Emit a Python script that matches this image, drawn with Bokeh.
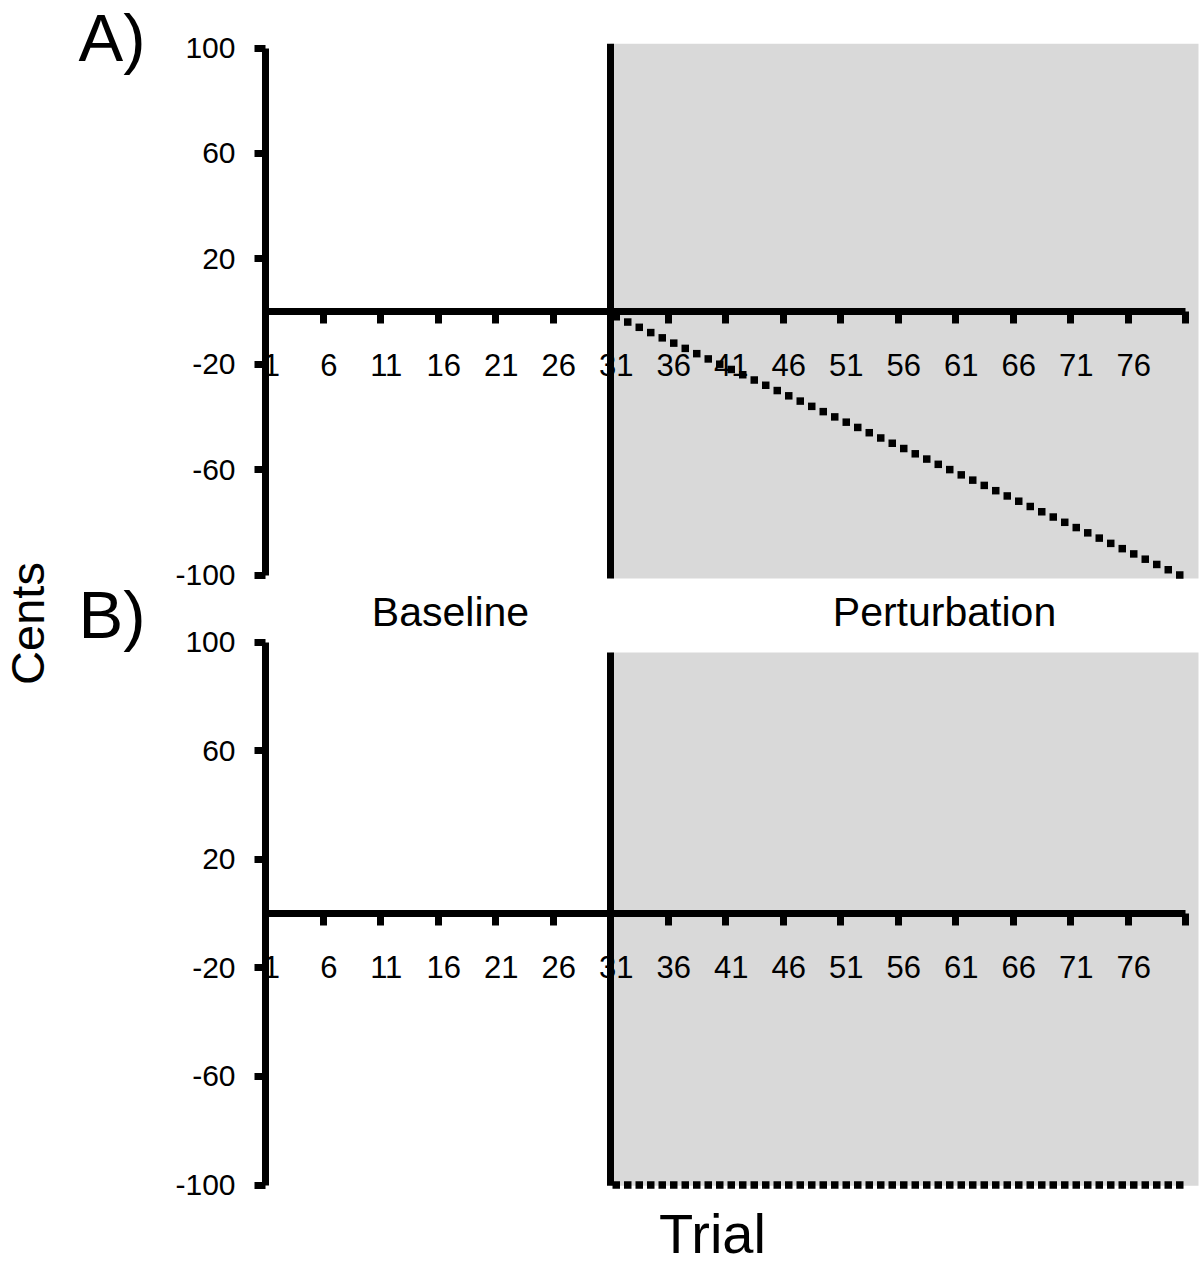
from bokeh.plotting import figure
from bokeh.models import Range1d, LinearAxis, FixedTicker, Label
from bokeh.embed import file_html
from bokeh.resources import INLINE
import math

# ---------------- data ----------------
perturbation_onset = 30.5           # boundary between trial 30 and 31
n_trials = 80
pert_trials = [31, 32, 33, 34, 35, 36, 37, 38, 39, 40,
               41, 42, 43, 44, 45, 46, 47, 48, 49, 50,
               51, 52, 53, 54, 55, 56, 57, 58, 59, 60,
               61, 62, 63, 64, 65, 66, 67, 68, 69, 70,
               71, 72, 73, 74, 75, 76, 77, 78, 79, 80]
ramp_cents = [-2, -4, -6, -8, -10, -12, -14, -16, -18, -20,
              -22, -24, -26, -28, -30, -32, -34, -36, -38, -40,
              -42, -44, -46, -48, -50, -52, -54, -56, -58, -60,
              -62, -64, -66, -68, -70, -72, -74, -76, -78, -80,
              -82, -84, -86, -88, -90, -92, -94, -96, -98, -100]
step_cents = [-100] * 50
x_tick_labels = [1, 6, 11, 16, 21, 26, 31, 36, 41, 46, 51, 56, 61, 66, 71, 76]
x_tick_marks = [5.5, 10.5, 15.5, 20.5, 25.5, 30.5, 35.5, 40.5,
                45.5, 50.5, 55.5, 60.5, 65.5, 70.5, 75.5, 80.5]
y_ticks = [-100, -60, -20, 20, 60, 100]
shade_A = (-101.3, 101.6)   # (bottom, top) of grey region, panel A
shade_B = (-100.3, 96.1)    # panel B

# ---------------- layout (canvas pixels) ----------------
W, H = 1200, 1265
PX_X0 = 265.0                       # canvas x of the y axes (x = 0.5)
PX_PER_TRIAL = 11.5
SHADE_RIGHT_PX = 1198
A_ZERO, A_SCALE = 311.0, 2.635      # canvas y of 0 cents, px per cent (panel A)
B_ZERO, B_SCALE = 913.0, 2.715      # panel B

def px_x(px):
    return 0.5 + (px - PX_X0) / PX_PER_TRIAL

def py_A(py):
    return (A_ZERO - py) / A_SCALE

def py_B(py):
    return (B_ZERO - py) / B_SCALE

x_end = px_x(SHADE_RIGHT_PX)
FONT = "Liberation Sans"

p = figure(width=W, height=H, title=None,
           x_range=Range1d(px_x(0), px_x(W)),
           y_range=Range1d(py_A(H), py_A(0)),
           x_axis_location=None, y_axis_location=None,
           toolbar_location=None, output_backend="svg",
           min_border_left=0, min_border_right=0,
           min_border_top=0, min_border_bottom=0,
           outline_line_color=None, background_fill_color="white",
           border_fill_color="white")
p.extra_y_ranges = {"B": Range1d(py_B(H), py_B(0))}
p.xgrid.visible = False
p.ygrid.visible = False

GREY = "#d9d9d9"
for rng, shade in (("default", shade_A), ("B", shade_B)):
    p.quad(left=perturbation_onset, right=x_end, bottom=shade[0], top=shade[1],
           fill_color=GREY, line_color=None, y_range_name=rng, level="underlay")
    p.segment(x0=perturbation_onset, x1=perturbation_onset, y0=shade[0], y1=shade[1],
              line_color="black", line_width=7, y_range_name=rng)

p.scatter(pert_trials, ramp_cents, marker="square", size=7.5,
          fill_color="black", line_color=None)
p.scatter(pert_trials, step_cents, marker="square", size=7.5,
          fill_color="black", line_color=None, y_range_name="B")

overrides_y = {t: str(t) for t in y_ticks}
overrides_x = {t: str(t) for t in x_tick_labels}

for rng in ("default", "B"):
    yax = LinearAxis(y_range_name=rng, fixed_location=0.5, bounds=(-100, 100),
                     ticker=FixedTicker(ticks=y_ticks),
                     major_label_overrides=overrides_y,
                     axis_line_width=7, axis_line_color="black",
                     major_tick_line_width=7, major_tick_out=11, major_tick_in=0,
                     minor_tick_out=0, minor_tick_in=0,
                     major_label_standoff=19,
                     major_label_text_font=FONT,
                     major_label_text_font_size="30px",
                     major_label_text_color="black")
    p.add_layout(yax, "left")

    xax = LinearAxis(y_range_name=rng, fixed_location=0, bounds=(0.5, n_trials + 0.5),
                     ticker=FixedTicker(ticks=x_tick_marks),
                     axis_line_width=7, axis_line_color="black",
                     major_tick_line_width=7, major_tick_out=12, major_tick_in=0,
                     minor_tick_out=0, minor_tick_in=0,
                     major_label_text_alpha=0, major_label_text_font_size="1px")
    p.add_layout(xax, "below")

    xlab = LinearAxis(y_range_name=rng, fixed_location=0,
                      ticker=FixedTicker(ticks=x_tick_labels),
                      major_label_overrides=overrides_x,
                      axis_line_color=None,
                      major_tick_out=0, major_tick_in=0,
                      minor_tick_out=0, minor_tick_in=0,
                      major_label_standoff=42,
                      major_label_text_font=FONT,
                      major_label_text_font_size="31px",
                      major_label_text_color="black")
    p.add_layout(xlab, "below")

def add_label(text, px, py, rng, size, align="center", angle=0.0):
    # px, py: canvas position of the text's centre (left edge if align="left")
    conv = py_A if rng == "default" else py_B
    p.add_layout(Label(x=px_x(px), y=conv(py), y_range_name=rng, text=text,
                       text_font=FONT, text_font_size=size, text_color="black",
                       text_align=align, text_baseline="middle", angle=angle))

add_label("A)", 78, 37, "default", "67px", align="left")
add_label("B)", 78, 614, "B", "67px", align="left")
add_label("Cents", 27, 623, "default", "47px", angle=math.pi / 2)
add_label("Baseline", 450, 611, "default", "41px")
add_label("Perturbation", 944, 611, "default", "41px")
add_label("Trial", 712, 1233, "B", "56px")

open("out.html", "w").write(file_html(p, INLINE))
